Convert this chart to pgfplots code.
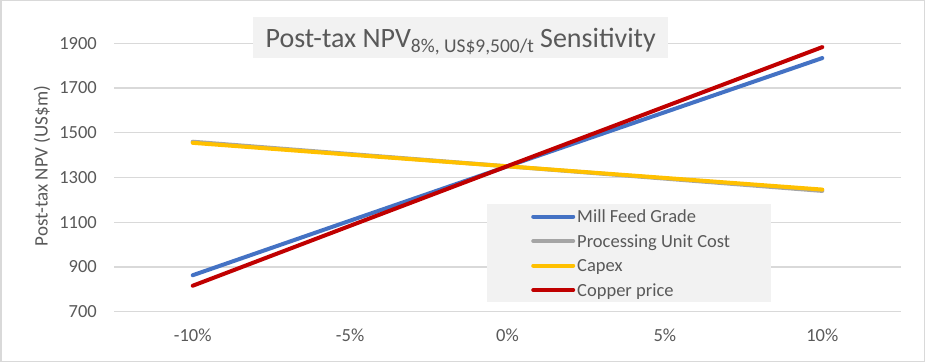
\documentclass[border=0pt]{standalone}
\usepackage{pgfplots}
\pgfplotsset{compat=1.18}
\usepackage{fontspec}
\setmainfont{Carlito}
\definecolor{txt}{HTML}{595959}
\definecolor{gridc}{HTML}{D9D9D9}
\definecolor{boxc}{HTML}{F2F2F2}
\definecolor{cblue}{HTML}{4472C4}
\definecolor{cgray}{HTML}{A5A5A5}
\definecolor{cyel}{HTML}{FFC000}
\definecolor{cred}{HTML}{C00000}
\begin{document}
\begin{tikzpicture}
\useasboundingbox (0,0) rectangle (925bp,362bp);
\fill[white] (0,0) rectangle (925bp,362bp);
\begin{axis}[
  at={(114bp,50.3bp)}, anchor=south west,
  scale only axis, width=787bp, height=268.4bp,
  xmin=-0.5, xmax=4.5, ymin=700, ymax=1900,
  xtick={0,...,4}, xticklabels={-10\%,-5\%,0\%,5\%,10\%},
  ytick={700,900,...,1900},
  axis line style={draw=none},
  major tick style={draw=none},
  ymajorgrids, grid style={gridc, line width=1.2bp},
  tick label style={font=\fontsize{18.5bp}{20bp}\selectfont, text=txt, inner sep=0bp},
  /pgf/number format/assume math mode=true,
  /pgf/number format/1000 sep={},
  yticklabel style={anchor=east, xshift=-17bp},
  xticklabel style={anchor=north, yshift=-17bp},
  ylabel={Post-tax NPV (US\$m)},
  ylabel style={at={(rel axis cs:0,0.543)}, anchor=center, yshift=72bp,
    font=\fontsize{19bp}{20bp}\selectfont, text=txt},
  legend style={at={(rel axis cs:0.474,0.401)}, anchor=north west,
    fill=boxc, draw=none, inner sep=0bp,
    font=\fontsize{18.5bp}{20bp}\selectfont, text=txt,
    nodes={inner xsep=1bp, inner ysep=6.25bp, text height=12bp, text depth=0bp}},
  legend cell align=left,
  legend image code/.code={%
    \path[draw=none] (0bp,0bp) -- (89bp,0bp);
    \draw[#1, line width=4bp, line cap=round] (46bp,0bp) -- (86bp,0bp);},
  clip=false,
]
\addplot[cblue, line width=4bp, line cap=round] coordinates {(0,863)(1,1107)(2,1350)(3,1592)(4,1834)};
\addplot[cgray, line width=4bp, line cap=round] coordinates {(0,1460)(1,1405)(2,1350)(3,1295)(4,1240)};
\addplot[cyel, line width=4bp, line cap=round] coordinates {(0,1455)(1,1402)(2,1350)(3,1298)(4,1246)};
\addplot[cred, line width=4bp, line cap=round] coordinates {(0,816)(1,1084)(2,1351)(3,1617)(4,1883)};
\legend{\makebox[193bp][l]{Mill Feed Grade},Processing Unit Cost,Capex,Copper price}
\end{axis}
\node[fill=boxc, minimum width=415bp, minimum height=41bp, inner sep=0bp] at (460.5bp,324.5bp) {};
\node[anchor=base, inner sep=0bp, text=txt, font=\fontsize{28bp}{30bp}\selectfont] at (460.7bp,314bp)
  {Post-tax NPV\raisebox{-5bp}{\fontsize{19.5bp}{20bp}\selectfont 8\%, US\$9,500/t} Sensitivity};
\draw[gridc, line width=1.5bp] (0.75bp,0.75bp) rectangle (924.25bp,361.25bp);
\end{tikzpicture}
\end{document}
